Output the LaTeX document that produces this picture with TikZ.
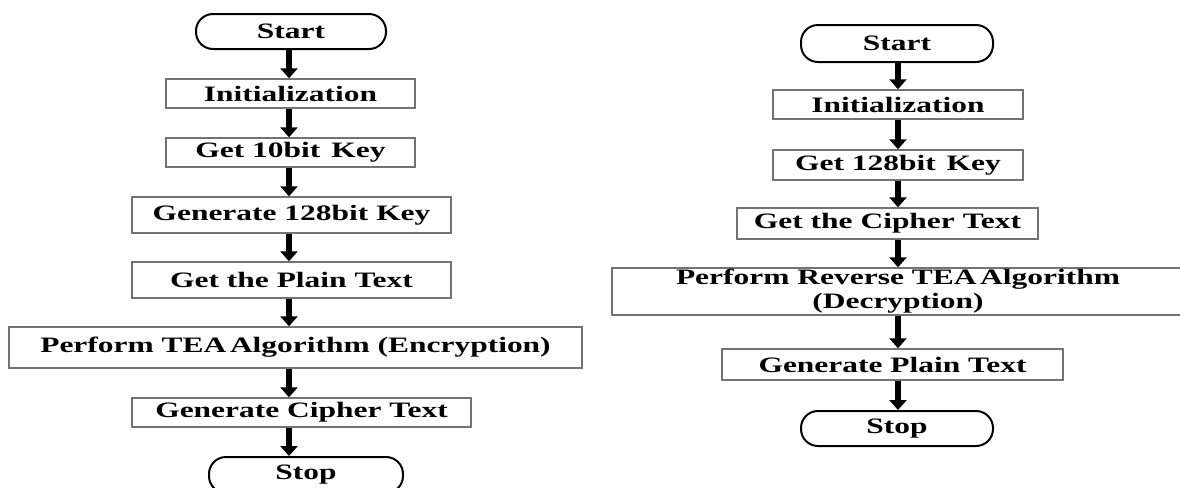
\documentclass[tikz,border=0pt]{standalone}
\usepackage{fontspec}
\setmainfont{Liberation Serif}[FakeStretch=1.43]
\usetikzlibrary{arrows.meta}

\begin{document}
\begin{tikzpicture}[x=0.5pt, y=-0.5pt,
  every node/.style={font=\fontsize{11}{12}\selectfont\bfseries, inner sep=0pt, align=center},
  term/.style={draw, line width=1pt, rounded corners=8.5pt, minimum width=96pt, minimum height=17.5pt},
  box/.style={draw=black!55, line width=0.7pt, minimum height=14.5pt},
  flow/.style={line width=3.2pt, -{Triangle[width=8.5pt,length=5pt]}}]
  \useasboundingbox (0,0) rectangle (1180,488);
  % encryption
  \node[term, minimum width=95pt] (start) at (291,31.5) {Start};
  \node[box, minimum width=124.5pt] (init) at (290.5,93.5) {Initialization};
  \node[box, minimum width=124.5pt] (getkey) at (290.5,152.5) {Get 10bit\enspace Key};
  \node[box, minimum width=159.5pt, minimum height=18pt] (genkey) at (291.5,215) {Generate 128bit Key};
  \node[box, minimum width=159.5pt, minimum height=18pt] (plain) at (291.5,280) {Get the Plain Text};
  \node[box, minimum width=286.5pt, minimum height=20.5pt] (tea) at (295.5,347.5) {Perform TEA\,Algorithm (Encryption)};
  \node[box, minimum width=169.5pt] (cipher) at (301.5,412.5) {Generate Cipher Text};
  \node[term, minimum width=97pt, minimum height=18pt] (stop) at (306,475) {Stop};
  \coordinate (lx) at (289,0);
  \path[flow]
  (lx |- start.south) edge (lx |- init.north)
  (lx |- init.south) edge (lx |- getkey.north)
  (lx |- getkey.south) edge (lx |- genkey.north)
  (lx |- genkey.south) edge (lx |- plain.north)
  (lx |- plain.south) edge (lx |- tea.north)
  (lx |- tea.south) edge (lx |- cipher.north)
  (lx |- cipher.south) edge (lx |- stop.north);
  % decryption
  \node[term, minimum height=18.5pt] (dstart) at (897,43.5) {Start};
  \node[box, minimum width=125pt] (dinit) at (898,104.5) {Initialization};
  \node[box, minimum width=125pt, minimum height=15pt] (dkey) at (898,165) {Get 128bit\enspace Key};
  \node[box, minimum width=150.5pt, minimum height=15.5pt] (dcipher) at (887.5,223.5) {Get the Cipher Text};
  \node[box, minimum width=286pt, minimum height=23.5pt] (reverse) at (898,291.5) {Perform Reverse TEA\,Algorithm\\(Decryption)};
  \node[box, minimum width=170.5pt, minimum height=15.5pt] (dplain) at (892.5,364.5) {Generate Plain Text};
  \node[term, minimum height=17.5pt] (dstop) at (897,428.5) {Stop};
  \coordinate (rx) at (898,0);
  \path[flow]
  (rx |- dstart.south) edge (rx |- dinit.north)
  (rx |- dinit.south) edge (rx |- dkey.north)
  (rx |- dkey.south) edge (rx |- dcipher.north)
  (rx |- dcipher.south) edge (rx |- reverse.north)
  (rx |- reverse.south) edge (rx |- dplain.north)
  (rx |- dplain.south) edge (rx |- dstop.north);
\end{tikzpicture}
\end{document}
